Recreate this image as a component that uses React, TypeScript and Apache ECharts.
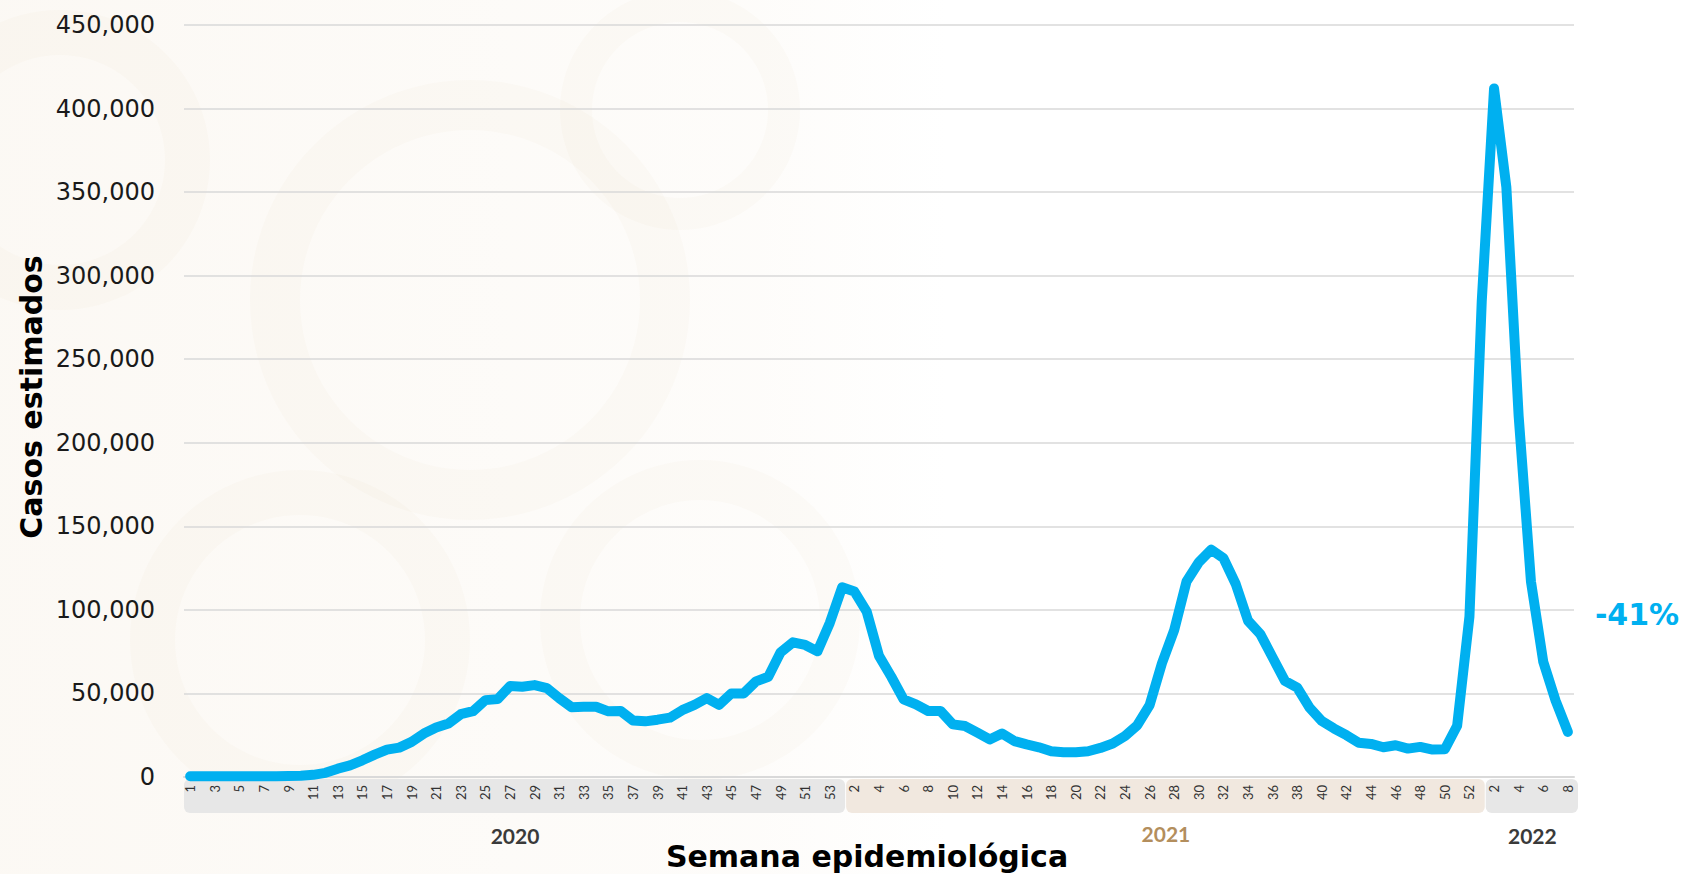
import React, { useEffect, useRef } from "react";
import * as echarts from "echarts";

// Epidemiological weeks per year
const weeks2020 = [1, 2, 3, 4, 5, 6, 7, 8, 9, 10, 11, 12, 13, 14, 15, 16, 17, 18, 19, 20, 21, 22, 23, 24, 25, 26, 27, 28, 29, 30, 31, 32, 33, 34, 35, 36, 37, 38, 39, 40, 41, 42, 43, 44, 45, 46, 47, 48, 49, 50, 51, 52, 53];
const weeks2021 = [1, 2, 3, 4, 5, 6, 7, 8, 9, 10, 11, 12, 13, 14, 15, 16, 17, 18, 19, 20, 21, 22, 23, 24, 25, 26, 27, 28, 29, 30, 31, 32, 33, 34, 35, 36, 37, 38, 39, 40, 41, 42, 43, 44, 45, 46, 47, 48, 49, 50, 51, 52];
const weeks2022 = [1, 2, 3, 4, 5, 6, 7, 8];

// Estimated cases per week
const cases2020 = [500, 500, 500, 500, 500, 500, 500, 500, 600, 700, 1300, 2500, 5000, 7000, 10000, 13400, 16400, 17600, 21000, 26000, 29600, 32000, 37600, 39400, 46000, 46600, 54400, 54000, 55000, 53200, 47200, 41800, 42000, 42000, 39300, 39500, 33800, 33300, 34300, 35500, 40000, 43200, 47200, 43200, 50000, 50000, 57200, 60000, 74600, 80600, 79000, 75200, 92200];
const cases2021 = [113500, 111000, 99000, 72500, 60000, 46500, 43500, 39500, 39500, 31500, 30500, 26500, 22500, 26000, 21500, 19500, 17800, 15400, 14800, 14800, 15400, 17400, 20000, 24500, 31000, 43000, 68000, 88000, 117000, 128500, 136000, 131000, 115500, 93500, 85500, 71500, 57500, 53500, 41500, 33500, 29000, 25000, 20500, 19800, 17800, 19000, 17000, 18000, 16400, 16600, 30700, 96000];
const cases2022 = [284700, 412000, 353000, 216000, 117000, 69000, 45800, 27000];

const yearLabels = ["2020", "2021", "2022"];
const yearColors = ["#3a3a3a", "#b38e5d", "#3a3a3a"];
const yearBoxColors = ["#e7e7e7", "#f1e8df", "#e7e7e7"];
const changeLabel = "-41%";
const yAxisTitle = "Casos estimados";
const xAxisTitle = "Semana epidemiológica";

export default function App() {
  const ref = useRef<HTMLDivElement>(null);

  useEffect(() => {
    document.body.style.margin = "0";
    if (!ref.current) return;
    const chart = echarts.init(ref.current, null, { renderer: "svg" });

    const categories = [
      ...weeks2020.map((w) => `2020-${w}`),
      ...weeks2021.map((w) => `2021-${w}`),
      ...weeks2022.map((w) => `2022-${w}`),
    ];
    const values = [...cases2020, ...cases2021, ...cases2022];

    const gridLeft = 184;
    const gridRight = 109;
    const gridTop = 25;
    const gridBottom = 97;

    chart.setOption({
      animation: false,
      backgroundColor: "#ffffff",
      grid: { left: gridLeft, right: gridRight, top: gridTop, bottom: gridBottom, containLabel: false },
      xAxis: {
        type: "category",
        data: categories,
        boundaryGap: true,
        axisLine: { show: true, lineStyle: { color: "#d9d9d9", width: 2 } },
        axisTick: { show: false },
        axisLabel: {
          interval: 1,
          rotate: 90,
          margin: 8,
          fontFamily: "Lato",
          fontSize: 13,
          color: "#333333",
          formatter: (v: string) => v.split("-")[1],
        },
        splitLine: { show: false },
      },
      yAxis: {
        type: "value",
        min: 0,
        max: 450000,
        interval: 50000,
        axisLine: { show: false },
        axisTick: { show: false },
        axisLabel: {
          margin: 29,
          fontFamily: "DejaVu Sans",
          fontSize: 24,
          color: "#1a1a1a",
          formatter: (v: number) => v.toLocaleString("en-US"),
        },
        splitLine: { lineStyle: { color: "#d9d9d9", width: 1.5 } },
      },
      series: [
        {
          type: "line",
          data: values,
          symbol: "none",
          smooth: false,
          lineStyle: { color: "#00b0f0", width: 10, cap: "round", join: "round" },
          z: 5,
        },
      ],
    });

    const px = (i: number) => chart.convertToPixel({ xAxisIndex: 0 }, categories[i]) as number;
    const b0 = gridLeft;
    const b1 = px(weeks2020.length) + 4;
    const b2 = px(weeks2020.length + weeks2021.length) + 4;
    const b3 = 1683 - gridRight + 5;
    const bounds = [b0, b1, b2, b3];
    const boxTop = 779;
    const boxH = 34;

    const graphics: any[] = [];
    // faint watermark background on the left
    const wm = "rgba(226, 206, 178, 0.06)";
    graphics.push(
      {
        type: "rect",
        z: -3,
        shape: { x: 0, y: 0, width: 950, height: 874 },
        style: {
          fill: {
            type: "linear", x: 0, y: 0, x2: 1, y2: 0,
            colorStops: [
              { offset: 0, color: "rgba(240,226,205,0.22)" },
              { offset: 0.8, color: "rgba(240,226,205,0.10)" },
              { offset: 1, color: "rgba(240,226,205,0)" },
            ],
          },
        },
      },
      { type: "ring", z: -2, shape: { cx: 60, cy: 160, r: 150, r0: 105 }, style: { fill: wm } },
      { type: "ring", z: -2, shape: { cx: 470, cy: 300, r: 220, r0: 170 }, style: { fill: wm } },
      { type: "ring", z: -2, shape: { cx: 300, cy: 640, r: 170, r0: 125 }, style: { fill: wm } },
      { type: "ring", z: -2, shape: { cx: 700, cy: 620, r: 160, r0: 120 }, style: { fill: wm } },
      { type: "ring", z: -2, shape: { cx: 680, cy: 110, r: 120, r0: 88 }, style: { fill: wm } }
    );
    for (let k = 0; k < 3; k++) {
      graphics.push({
        type: "rect",
        z: -1,
        shape: { x: bounds[k], y: boxTop, width: bounds[k + 1] - bounds[k] - 1, height: boxH, r: 6 },
        style: { fill: yearBoxColors[k] },
      });
      graphics.push({
        type: "text",
        z: 10,
        x: (bounds[k] + bounds[k + 1]) / 2,
        y: k === 1 ? 833 : 835,
        style: {
          text: yearLabels[k],
          fill: yearColors[k],
          font: "bold 21px Lato",
          align: "center",
          verticalAlign: "middle",
        },
      });
    }
    graphics.push({
      type: "text",
      z: 10,
      x: 867,
      y: 856,
      style: { text: xAxisTitle, fill: "#000000", font: "bold 30px 'DejaVu Sans'", align: "center", verticalAlign: "middle" },
    });
    graphics.push({
      type: "text",
      z: 10,
      x: 31,
      y: 397,
      rotation: Math.PI / 2,
      style: { text: yAxisTitle, fill: "#000000", font: "bold 30px 'DejaVu Sans'", align: "center", verticalAlign: "middle" },
    });
    graphics.push({
      type: "text",
      z: 10,
      x: 1637,
      y: 614,
      style: { text: changeLabel, fill: "#00b0f0", font: "bold 30px 'DejaVu Sans'", align: "center", verticalAlign: "middle" },
    });
    chart.setOption({ graphic: graphics });

    return () => chart.dispose();
  }, []);

  return <div ref={ref} style={{ position: "absolute", left: 0, top: 0, width: 1683, height: 874 }} />;
}
